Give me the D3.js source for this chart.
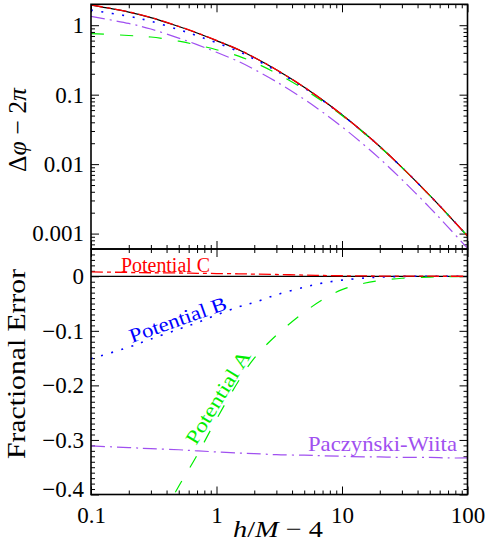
<!DOCTYPE html>
<html><head><meta charset="utf-8">
<script src="https://cdn.jsdelivr.net/npm/d3@7"></script>
<style>
body{margin:0;background:#fff}
svg{display:block}
text{font-family:"Liberation Serif","Times New Roman",serif;fill:#000}
</style>
</head><body>
<svg id="c" width="486" height="548"></svg>
<script>
// ---- data ----
const xVals = [0.1,0.2,0.3,0.5,0.7,1,1.5,2,3,5,7,10,15,20,30,50,70,100];

// top panel: Δφ − 2π
const exactTop = [1.941,1.545,1.288,0.957,0.773,0.601,0.4436,0.342,0.228,0.128,0.0836,0.0514,0.02825,0.01791,0.00899,0.00355,0.001862,0.000923];
const potCTop  = [1.957,1.556,1.296,0.963,0.777,0.604,0.4456,0.3434,0.2288,0.1283,0.0837,0.05145,0.02827,0.01792,0.00899,0.00355,0.001862,0.000923];
const potBTop  = [1.648,1.344,1.140,0.864,0.707,0.558,0.4188,0.3256,0.2203,0.1254,0.08256,0.05104,0.02816,0.01788,0.00899,0.00355,0.001862,0.000923];
const potATop  = [0.757,0.711,0.676,0.589,0.519,0.4435,0.3584,0.2907,0.2034,0.1196,0.0800,0.05014,0.02789,0.01777,0.008958,0.003545,0.001861,0.000923];
const pwTop    = [1.337,1.060,0.881,0.6527,0.5256,0.4075,0.2999,0.2309,0.1534,0.0860,0.0561,0.03444,0.0189,0.01198,0.006005,0.002371,0.001242,0.000616];

// bottom panel: fractional error
const exactErr = [0,0,0,0,0,0,0,0,0,0,0,0,0,0,0,0,0,0];
const potCErr  = [0.008,0.007,0.0065,0.006,0.0055,0.005,0.0045,0.004,0.0033,0.0022,0.0015,0.001,0.0006,0.0004,0.0002,0.0001,0.00005,0];
const potBErr  = [-0.151,-0.130,-0.115,-0.097,-0.085,-0.071,-0.056,-0.048,-0.034,-0.020,-0.0125,-0.007,-0.0033,-0.0015,-0.0003,0,0,0];
const potAErr  = [-0.61,-0.54,-0.475,-0.385,-0.328,-0.262,-0.192,-0.150,-0.108,-0.066,-0.043,-0.0245,-0.0128,-0.0078,-0.0036,-0.0014,-0.0007,-0.0003];
const pwErr    = [-0.311,-0.314,-0.316,-0.318,-0.320,-0.322,-0.324,-0.325,-0.327,-0.328,-0.329,-0.330,-0.331,-0.331,-0.332,-0.332,-0.333,-0.333];

// ticks
const xMajor = [0.1,1,10,100];
const xTickLabels = ["0.1","1","10","100"];
const topMajor = [0.001,0.01,0.1,1];
const topTickLabels = ["0.001","0.01","0.1","1"];
const botMajor = [-0.4,-0.3,-0.2,-0.1,0];
const botTickLabels = ["\u22120.4","\u22120.3","\u22120.2","\u22120.1","0"];

// ---- layout ----
const svg = d3.select("#c");
const L = 91, R = 467.5, T = 4.3, M = 249, B = 494.5;
const x = d3.scaleLog().domain([0.1,100]).range([L,R]);
const yTop = d3.scaleLog().domain([0.0006,2]).range([M,T]);
const yBot = d3.scaleLinear().domain([-0.4,0.05]).range([B,M]);

const logMinor = (lo,hi) => {
  const out=[];
  for (let e=-5;e<=3;e++) for (let k=2;k<=9;k++){const v=k*Math.pow(10,e); if(v>=lo&&v<=hi) out.push(v);}
  return out;
};
const xMinor = logMinor(0.1,100);
const topMinor = logMinor(0.0006,2);
const botMinor = d3.range(-40,6).map(i=>i/100).filter(v=>Math.abs(v*10-Math.round(v*10))>1e-6);

const defs = svg.append("defs");
defs.append("clipPath").attr("id","clipTop").append("rect").attr("x",L).attr("y",T).attr("width",R-L).attr("height",M-T);
defs.append("clipPath").attr("id","clipBot").append("rect").attr("x",L).attr("y",M).attr("width",R-L).attr("height",B-M);

function ticks(gen, tr, vals, size, fmt){
  const g = svg.append("g").attr("transform",tr)
    .call(gen.tickValues(vals).tickSize(-size).tickSizeOuter(0).tickFormat(fmt||(()=>"")));
  g.select(".domain").remove();
  g.selectAll(".tick line").attr("stroke","#000").attr("stroke-width",1);
  return g;
}
const fmtFrom = (vals,labels)=> d=>{const i=vals.findIndex(v=>Math.abs(v-d)<1e-9); return i>=0?labels[i]:"";};

// x ticks on all horizontal edges
[[d3.axisTop, T],[d3.axisBottom, M],[d3.axisTop, M]].forEach(([a,yy])=>{
  ticks(a(x), `translate(0,${yy})`, xMajor, 8);
  ticks(a(x), `translate(0,${yy})`, xMinor, 4);
});
ticks(d3.axisBottom(x), `translate(0,${B})`, xMinor, 4);
const xl = ticks(d3.axisBottom(x).tickPadding(12), `translate(0,${B})`, xMajor, 8, fmtFrom(xMajor,xTickLabels));
xl.selectAll("text").attr("font-size",23).attr("fill","#000").style("font-family",'"Liberation Serif",serif');

// top panel y ticks
ticks(d3.axisRight(yTop), `translate(${R},0)`, topMajor, 8);
ticks(d3.axisRight(yTop), `translate(${R},0)`, topMinor, 4);
ticks(d3.axisLeft(yTop), `translate(${L},0)`, topMinor, 4);
const tl = ticks(d3.axisLeft(yTop).tickPadding(7), `translate(${L},0)`, topMajor, 8, fmtFrom(topMajor,topTickLabels));
tl.selectAll("text").attr("font-size",23).attr("fill","#000").style("font-family",'"Liberation Serif",serif');

// bottom panel y ticks
ticks(d3.axisRight(yBot), `translate(${R},0)`, botMajor, 8);
ticks(d3.axisRight(yBot), `translate(${R},0)`, botMinor, 4);
ticks(d3.axisLeft(yBot), `translate(${L},0)`, botMinor, 4);
const bl = ticks(d3.axisLeft(yBot).tickPadding(7), `translate(${L},0)`, botMajor, 8, fmtFrom(botMajor,botTickLabels));
bl.selectAll("text").attr("font-size",23).attr("fill","#000").style("font-family",'"Liberation Serif",serif');
bl.selectAll(".tick").filter(d=>Math.abs(d+0.4)<1e-9).select("text").attr("dy","0.1em");

// ---- curves ----
function curve(clip, ys, yv, color, dash, w){
  const line = d3.line().x(d=>x(d[0])).y(d=>ys(d[1])).curve(d3.curveCatmullRom.alpha(0.5));
  svg.append("path").attr("clip-path",`url(#${clip})`)
    .datum(xVals.map((v,i)=>[v,yv[i]]))
    .attr("d",line).attr("fill","none").attr("stroke",color)
    .attr("stroke-width",w||1.2).attr("stroke-dasharray",dash||null);
}
const RED="#ff0000", BLUE="#0000ff", GREEN="#00ee00", PURPLE="#a050f0";
curve("clipTop", yTop, exactTop, "#000", null, 1.2);
curve("clipTop", yTop, potBTop, BLUE, "2,8.5", 1.6);
curve("clipTop", yTop, potATop, GREEN, "13,16", 1.2);
curve("clipTop", yTop, pwTop, PURPLE, "14,5,2,5", 1.2);
curve("clipTop", yTop, potCTop, RED, "12,4,4,4", 1.3);

curve("clipBot", yBot, exactErr, "#000", null, 1.2);
curve("clipBot", yBot, potBErr, BLUE, "2,8.5", 1.6);
curve("clipBot", yBot, potAErr, GREEN, "13,16", 1.2);
curve("clipBot", yBot, pwErr, PURPLE, "14,5,2,5", 1.2);
curve("clipBot", yBot, potCErr, RED, "12,4,4,4", 1.3);

// frames
[[T,M],[M,B]].forEach(([a,b])=>{
  svg.append("rect").attr("x",L).attr("y",a).attr("width",R-L).attr("height",b-a)
    .attr("fill","none").attr("stroke","#000").attr("stroke-width",1.6);
});

// ---- labels ----
function label(txt, xx, yy, ang, color, size, len){
  const t = svg.append("text").attr("transform",`translate(${xx},${yy}) rotate(${ang})`)
    .attr("font-size",size).style("fill",color).text(txt);
  if(len) t.attr("textLength",len).attr("lengthAdjust","spacingAndGlyphs");
  return t;
}
label("Potential C", 121, 272, 0, RED, 20, 89);
label("Potential B", 132, 343, -19.6, BLUE, 20, 102);
label("Potential A", 196, 446, -58.5, GREEN, 20, 106);
label("Paczy\u0144ski-Wiita", 308, 451, 0, PURPLE, 21, 149);

// axis titles
const yt = svg.append("text").attr("transform","translate(26,130) rotate(-90)")
  .attr("text-anchor","middle").attr("font-size",25)
  .attr("textLength",84).attr("lengthAdjust","spacingAndGlyphs");
yt.append("tspan").text("\u0394");
yt.append("tspan").attr("font-style","italic").text("\u03c6");
yt.append("tspan").text(" \u2212 2");
yt.append("tspan").attr("font-style","italic").text("\u03c0");

svg.append("text").attr("transform","translate(25,364) rotate(-90)")
  .attr("text-anchor","middle").attr("font-size",26)
  .attr("textLength",190).attr("lengthAdjust","spacingAndGlyphs").text("Fractional Error");

const xt = svg.append("text").attr("x",278).attr("y",537).attr("text-anchor","middle").attr("font-size",24)
  .attr("textLength",90).attr("lengthAdjust","spacingAndGlyphs");
xt.append("tspan").attr("font-style","italic").text("h");
xt.append("tspan").text("/");
xt.append("tspan").attr("font-style","italic").text("M");
xt.append("tspan").text(" \u2212 4");
</script>
</body></html>
